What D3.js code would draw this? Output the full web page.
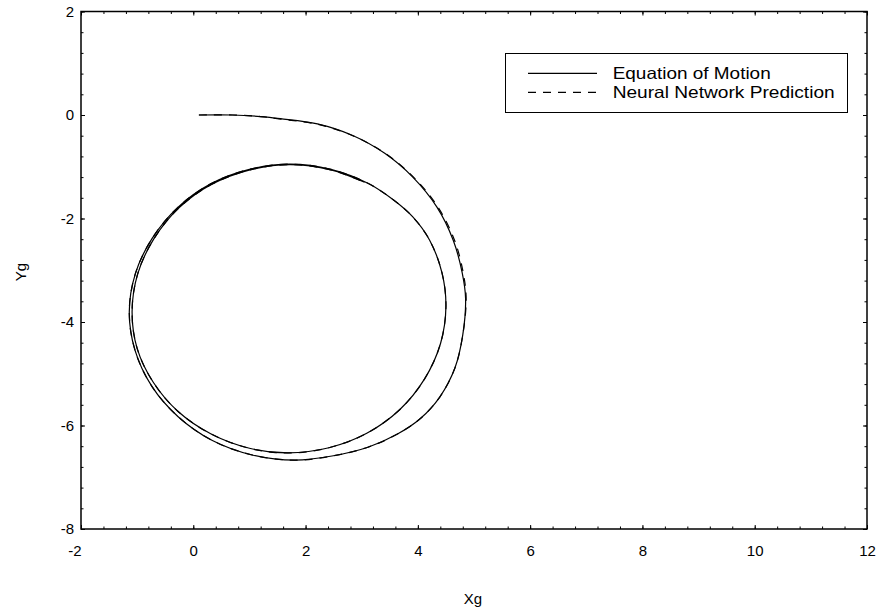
<!DOCTYPE html>
<html>
<head>
<meta charset="utf-8">
<script src="https://cdn.jsdelivr.net/npm/d3@7"></script>
<style>
  html, body { margin: 0; padding: 0; background: #fff; }
  svg { display: block; }
  text { font-family: "Liberation Sans", Arial, Helvetica, sans-serif; fill: #000; }
</style>
</head>
<body>
<svg id="chart" width="878" height="613"></svg>
<script>
// Ship trajectory in the global frame: equation of motion vs. neural network
const eomX = [0.10, 0.70, 1.20, 1.55, 2.21, 2.83, 3.41, 3.91, 4.34, 4.63, 4.79, 4.85, 4.80, 4.66, 4.39, 4.04, 3.645, 3.11, 2.47, 1.81,
  1.05, 0.34, -0.27, -0.74, -1.04, -1.14, -1.03, -0.73, -0.27, 0.31, 1.00, 1.72, 2.45, 3.11, 3.55, 3.91, 4.21, 4.43, 4.50,
  4.405, 4.12, 3.68, 3.09, 2.415, 1.69, 1.00, 0.31, -0.27, -0.71, -1.00, -1.09, -0.99, -0.70, -0.25, 0.33, 1.01, 1.72, 2.45, 3.05];
const eomY = [0.00, 0.00, -0.03, -0.07, -0.17, -0.39, -0.74, -1.20, -1.78, -2.42, -3.05, -3.54, -4.25, -4.89, -5.45, -5.87, -6.16, -6.42, -6.59, -6.67,
  -6.57, -6.29, -5.83, -5.24, -4.54, -3.80, -3.06, -2.38, -1.78, -1.33, -1.05, -0.95, -1.05, -1.32, -1.63, -1.97, -2.42, -3.05, -3.70,
  -4.41, -5.10, -5.69, -6.15, -6.43, -6.53, -6.44, -6.16, -5.73, -5.17, -4.51, -3.80, -3.07, -2.39, -1.79, -1.34, -1.06, -0.96, -1.06, -1.30];

const nnX = [0.10, 0.70, 1.20, 1.56, 2.22, 2.84, 3.43, 3.94, 4.37, 4.66, 4.81, 4.86, 4.80, 4.66, 4.39, 4.04, 3.645, 3.11, 2.47, 1.81,
  1.05, 0.34, -0.27, -0.74, -1.04, -1.14, -1.03, -0.73, -0.27, 0.31, 1.00, 1.72, 2.45, 3.11, 3.55, 3.91, 4.21, 4.43, 4.50,
  4.405, 4.12, 3.68, 3.09, 2.415, 1.69, 1.00, 0.31, -0.27, -0.71, -1.00, -1.09, -0.99, -0.70, -0.25, 0.33, 1.01, 1.72, 2.45, 3.05];
const nnY = [0.00, 0.00, -0.03, -0.08, -0.18, -0.40, -0.75, -1.22, -1.80, -2.44, -3.06, -3.55, -4.25, -4.89, -5.45, -5.87, -6.16, -6.42, -6.59, -6.67,
  -6.57, -6.29, -5.83, -5.24, -4.54, -3.80, -3.06, -2.38, -1.78, -1.33, -1.05, -0.95, -1.05, -1.32, -1.63, -1.97, -2.42, -3.05, -3.70,
  -4.41, -5.10, -5.69, -6.15, -6.43, -6.53, -6.44, -6.16, -5.73, -5.17, -4.51, -3.80, -3.07, -2.39, -1.79, -1.34, -1.06, -0.96, -1.06, -1.30];

const xTicks = [-2, 0, 2, 4, 6, 8, 10, 12];
const yTicks = [-8, -6, -4, -2, 0, 2];
const legendLabels = ["Equation of Motion", "Neural Network Prediction"];
const axisTitles = { x: "Xg", y: "Yg" };

const svg = d3.select("#chart");
const plotL = 81, plotR = 867, plotT = 11.5, plotB = 529;

const x = d3.scaleLinear().domain([-2, 12]).range([plotL, plotR]);
const y = d3.scaleLinear().domain([-8, 2]).range([plotB, plotT]);

const minorX = d3.range(-2, 12.001, 0.4).map(v => +v.toFixed(1));
const minorY = d3.range(-8, 2.001, 0.4).map(v => +v.toFixed(1));
const plainNumber = d => String(d);

function styleAxis(g) {
  g.select(".domain").remove();
  g.selectAll("line").attr("stroke", "#000").attr("stroke-width", 1);
  g.selectAll("text").style("font-size", "15px").attr("fill", "#000");
}

// minor ticks, inward on all sides
svg.append("g").attr("transform", `translate(0,${plotB})`)
  .call(d3.axisBottom(x).tickValues(minorX).tickSize(-2.5).tickFormat(""))
  .call(styleAxis);
svg.append("g").attr("transform", `translate(0,${plotT})`)
  .call(d3.axisTop(x).tickValues(minorX).tickSize(-2.5).tickFormat(""))
  .call(styleAxis);
svg.append("g").attr("transform", `translate(${plotL},0)`)
  .call(d3.axisLeft(y).tickValues(minorY).tickSize(-2.5).tickFormat(""))
  .call(styleAxis);
svg.append("g").attr("transform", `translate(${plotR},0)`)
  .call(d3.axisRight(y).tickValues(minorY).tickSize(-2.5).tickFormat(""))
  .call(styleAxis);

// major ticks with labels
const xAxis = svg.append("g").attr("transform", `translate(0,${plotB})`)
  .call(d3.axisBottom(x).tickValues(xTicks).tickSizeInner(-4).tickSizeOuter(0).tickPadding(16).tickFormat(plainNumber))
  .call(styleAxis);
xAxis.selectAll("text").filter(d => d < 0).attr("dx", -6.5);

svg.append("g").attr("transform", `translate(${plotL},0)`)
  .call(d3.axisLeft(y).tickValues(yTicks).tickSizeInner(-4).tickSizeOuter(0).tickPadding(7).tickFormat(plainNumber))
  .call(styleAxis);
svg.append("g").attr("transform", `translate(0,${plotT})`)
  .call(d3.axisTop(x).tickValues(xTicks).tickSizeInner(-4).tickSizeOuter(0).tickFormat(""))
  .call(styleAxis);
svg.append("g").attr("transform", `translate(${plotR},0)`)
  .call(d3.axisRight(y).tickValues(yTicks).tickSizeInner(-4).tickSizeOuter(0).tickFormat(""))
  .call(styleAxis);

// plot frame
svg.append("rect")
  .attr("x", plotL).attr("y", plotT)
  .attr("width", plotR - plotL).attr("height", plotB - plotT)
  .attr("fill", "none").attr("stroke", "#000").attr("stroke-width", 1.5);

// trajectories
const line = d3.line()
  .x(d => x(d[0])).y(d => y(d[1]))
  .curve(d3.curveCatmullRom.alpha(0.5));

const eom = eomX.map((v, i) => [v, eomY[i]]);
const nn = nnX.map((v, i) => [v, nnY[i]]);

svg.append("path").datum(eom)
  .attr("d", line).attr("fill", "none")
  .attr("stroke", "#000").attr("stroke-width", 1.2);
svg.append("path").datum(nn)
  .attr("d", line).attr("fill", "none")
  .attr("stroke", "#000").attr("stroke-width", 1.2)
  .attr("stroke-dasharray", "8,7");

// axis titles
svg.append("text")
  .attr("x", (plotL + plotR) / 2 - 1).attr("y", 604)
  .attr("text-anchor", "middle").style("font-size", "15px")
  .text(axisTitles.x);
svg.append("text")
  .attr("transform", "translate(26,272) rotate(-90)")
  .attr("text-anchor", "middle").style("font-size", "15px")
  .text(axisTitles.y);

// legend
const legend = svg.append("g");
legend.append("rect")
  .attr("x", 505.5).attr("y", 53.5).attr("width", 342).attr("height", 59)
  .attr("fill", "#fff").attr("stroke", "#000").attr("stroke-width", 1);
const legendDash = [null, "8,7"];
const legendLen = [158, 222];
legendLabels.forEach((lab, i) => {
  const ly = 73.3 + i * 19;
  legend.append("line")
    .attr("x1", 528).attr("x2", 597).attr("y1", ly).attr("y2", ly)
    .attr("stroke", "#000").attr("stroke-width", 1.2)
    .attr("stroke-dasharray", legendDash[i]);
  legend.append("text")
    .attr("x", 612.7).attr("y", ly + 5.5)
    .style("font-size", "16.5px")
    .attr("textLength", legendLen[i]).attr("lengthAdjust", "spacingAndGlyphs")
    .text(lab);
});
</script>
</body>
</html>
